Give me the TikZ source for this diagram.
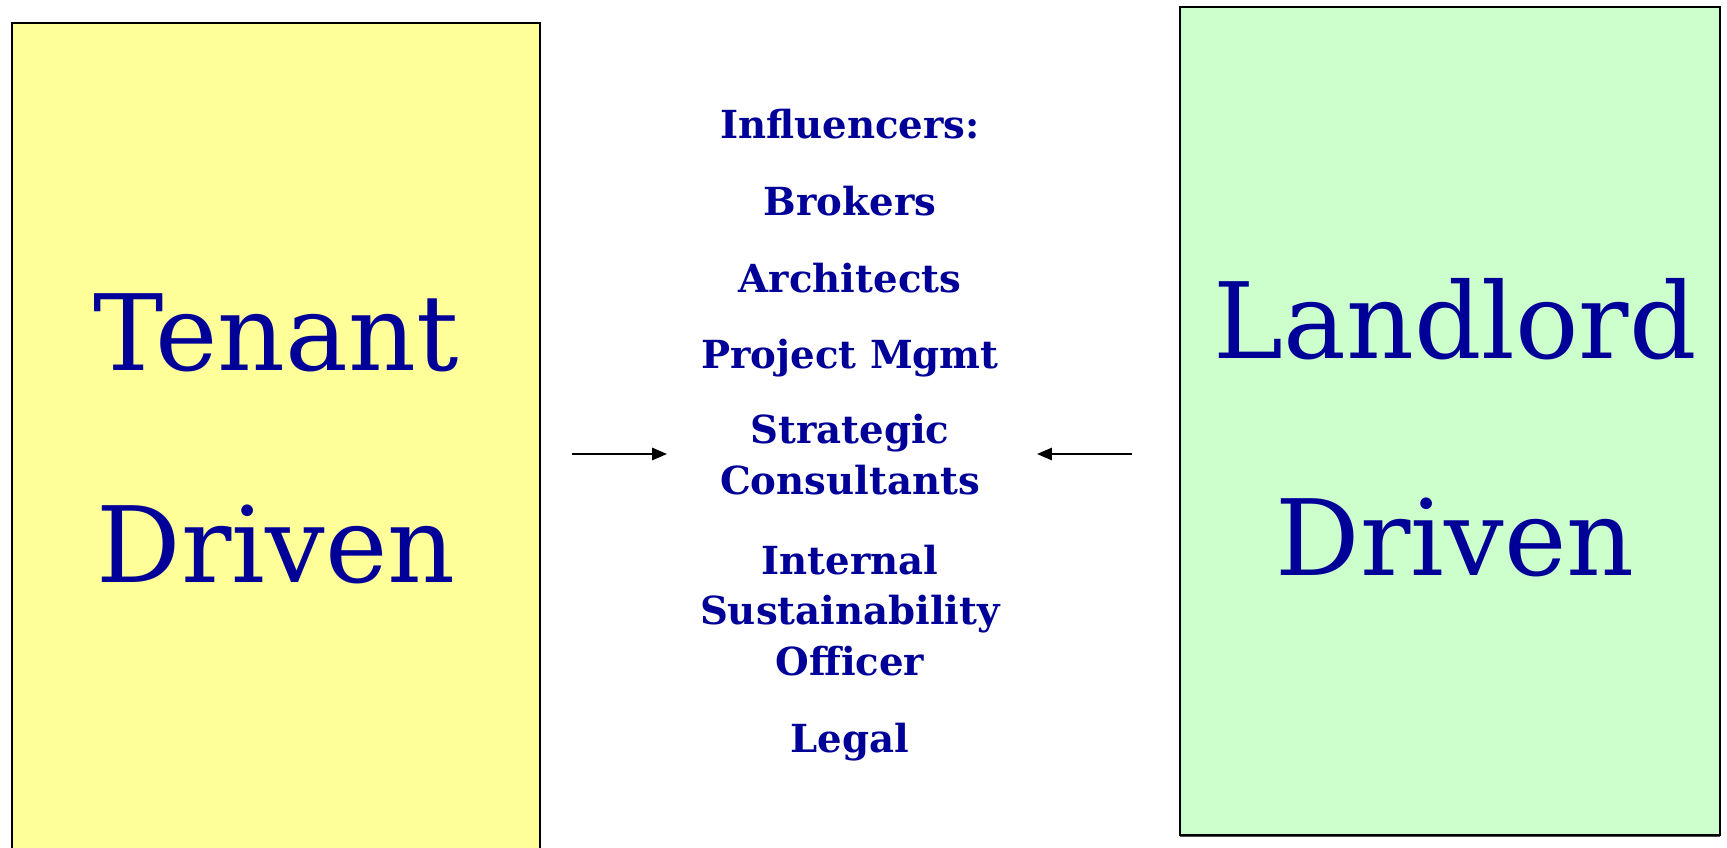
\documentclass[tikz,border=0pt]{standalone}
\usepackage{fontspec}
\setmainfont{DejaVu Serif}
\usepackage[x11names, svgnames]{xcolor}
\usepackage{tikz}
\usetikzlibrary{arrows.meta, calc, shadows}

\definecolor{InkBlue}{HTML}{000099}
\definecolor{TenantFill}{HTML}{FFFF99}
\definecolor{LandlordFill}{HTML}{CCFFCC}

\tikzset{
  sidebox/.style = {draw=black, line width=1pt},
  bigword/.style = {text=InkBlue, font=\fontsize{60}{60}\selectfont, anchor=base, inner sep=0pt},
  role/.style    = {text=InkBlue, font=\bfseries\fontsize{22}{28.5}\selectfont, align=center, anchor=base, inner sep=0pt},
  pushes/.style  = {-{Triangle[length=8.5pt, width=7pt]}, line width=1.1pt, draw=black},
}

\begin{document}
\begin{tikzpicture}[x=0.02cm, y=-0.02cm]

	\clip (0,0) rectangle (1727,848);
	\fill[white] (0,0) rectangle (1727,848);

	% the two sides
	\draw[sidebox, fill=TenantFill] (12,23) rectangle (540,870);
	\draw[sidebox, fill=LandlordFill, drop shadow={shadow xshift=0pt, shadow yshift=-1.2pt, fill=black!70, opacity=1}] (1180,7) rectangle (1720,835);

	\node[bigword] (tenant) at (276,370) {Tenant};
	\node[bigword] (tenantdriven) at (276,582) {Driven};
	\node[bigword] (landlord) at (1455,358) {Landlord};
	\node[bigword] (landlorddriven) at (1455,575) {Driven};

	% influencers in the middle (base = last line)
	\node[role] (influencers) at (850,138) {Influencers:};
	\node[role] (brokers) at (850,215) {Brokers};
	\node[role] (architects) at (850,292) {Architects};
	\node[role] (projmgmt) at (850,368) {Project Mgmt};
	\node[role] (strategic) at (850,494) {Strategic\\Consultants};
	\node[role] (internal) at (850,675) {Internal\\Sustainability\\Officer};
	\node[role] (legal) at (850,752) {Legal};

	% arrows pointing inwards
	\coordinate (tenantout) at (572,454);
	\coordinate (tenantin) at (667,454);
	\coordinate (landlordout) at (1132,454);
	\coordinate (landlordin) at (1037,454);
	\draw[pushes] (tenantout) -- (tenantin);
	\draw[pushes] (landlordout) -- (landlordin);

\end{tikzpicture}
\end{document}
